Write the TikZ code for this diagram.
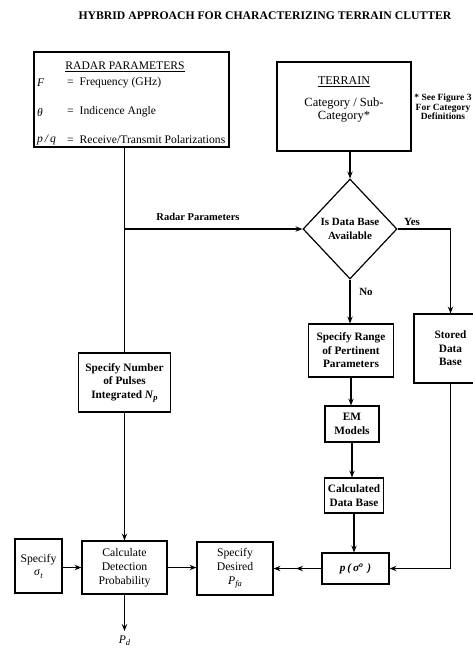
\documentclass[tikz,border=0pt]{standalone}
\usepackage{fontspec}
\setmainfont{Liberation Serif}
\usetikzlibrary{shapes.geometric,arrows.meta,calc}
\newcommand{\mysub}[1]{\raisebox{-0.4ex}{\fontsize{8.5}{8.5}\selectfont\itshape #1}}
\begin{document}
\begin{tikzpicture}[x=1pt,y=-1pt,
  box/.style={draw,line width=1.2pt,rectangle,inner sep=0pt,align=center,font=\fontsize{11.7}{13.8}\selectfont},
  bbox/.style={box,font=\fontsize{11.3}{13.5}\selectfont\bfseries},
  lbl/.style={inner sep=0pt,font=\fontsize{11.6}{13.5}\selectfont},
  blbl/.style={inner sep=0pt,font=\fontsize{11}{13.5}\selectfont\bfseries},
  line/.style={line width=1.1pt},
  conn/.style={line width=1.1pt,-{Stealth[length=7pt,width=5.5pt,inset=2.5pt]}}]
\useasboundingbox (0,0) rectangle (473,649);

% title
\node[inner sep=0pt,font=\fontsize{11.7}{14}\selectfont\bfseries] (title) at (265,16) {HYBRID APPROACH FOR CHARACTERIZING TERRAIN CLUTTER};

% radar parameters box
\node[box,minimum width=195pt,minimum height=95pt] (radar) at (131.5,99.5) {};
\node[lbl,font=\fontsize{11.6}{13}\selectfont] (rpt) at (125,67) {\underline{RADAR PARAMETERS}};
\node[lbl,anchor=west] (fsym) at (37,83) {\itshape F};
\node[lbl,anchor=west] (fdef) at (67,83) {=\hspace{6pt}Frequency (GHz)};
\node[lbl,anchor=west] (tsym) at (37,112) {\itshape θ};
\node[lbl,anchor=west] (tdef) at (67,112) {=\hspace{6pt}Indicence Angle};
\node[lbl,anchor=west] (psym) at (37,140) {\itshape p\,/\,q};
\node[lbl,anchor=west] (pdef) at (67,140) {=\hspace{6pt}Receive/Transmit Polarizations};

% terrain box
\node[box,minimum width=134pt,minimum height=89pt] (terrain) at (344,106.5) {};
\node[lbl,font=\fontsize{12}{13}\selectfont] (ttl) at (344,82) {\underline{TERRAIN}};
\node[lbl,align=center,font=\fontsize{12.5}{13}\selectfont] (tcat) at (344,110.5) {Category / Sub-\\Category*};
\node[inner sep=0pt,align=center,font=\fontsize{9.5}{8}\selectfont\bfseries] (fn) at (443,107) {* See Figure 3\\For Category\\Definitions};

% decision
\node[diamond,draw,line width=1.2pt,minimum width=94pt,minimum height=100pt,inner sep=0pt,align=center,font=\fontsize{11}{14}\selectfont\bfseries] (dia) at (350,229) {Is Data Base\\Available};
\node[blbl,font=\fontsize{10.5}{12}\selectfont\bfseries] (rplab) at (198,217) {Radar Parameters};
\node[blbl] (yes) at (412,222) {Yes};
\node[blbl] (no) at (366,292) {No};

% right column
\node[bbox,minimum width=85pt,minimum height=53pt] (specrange) at (351,350.5) {Specify Range\\of Pertinent\\Parameters};
\node[bbox,minimum width=73pt,minimum height=69pt] (stored) at (450.5,348.5) {Stored\\Data\\Base};
\node[bbox,minimum width=54pt,minimum height=36pt] (em) at (352,424) {EM\\Models};
\node[bbox,minimum width=59pt,minimum height=35pt] (calcdb) at (354,495.5) {Calculated\\Data Base};
\node[bbox,minimum width=67pt,minimum height=31pt] (pbox) at (355.5,568.5) {\itshape p\,(\,σ\textsuperscript{o}\,\,)};

% left / bottom
\node[bbox,minimum width=92pt,minimum height=59pt] (specnum) at (124.5,382.5) {Specify Number\\of Pulses\\Integrated \textit{N}\mysub{p}};
\node[box,minimum width=47pt,minimum height=54pt] (sigt) at (38.5,566) {Specify\\\textit{σ}\mysub{t}};
\node[box,minimum width=85pt,minimum height=53pt] (calc) at (124.5,567.5) {Calculate\\Detection\\Probability};
\node[box,minimum width=76pt,minimum height=53pt] (desired) at (235,568.5) {Specify\\Desired\\\textit{P}\mysub{fa}};
\coordinate (pdend) at (124.5,631);
\node[lbl] (pd) at (124.5,641) {\textit{P}\mysub{d}};

% connectors
\coordinate (br) at (dia.west -| specnum.north);
\draw[line] (radar.south -| specnum.north) -- (specnum.north);
\draw[conn] (br) -- (dia.west);
\draw[conn] (specnum.south) -- (calc.north);
\draw[conn] (dia.north |- terrain.south) -- (dia.north);
\draw[conn] (dia.south) -- (dia.south |- specrange.north);
\draw[conn] (specrange.south) -- (specrange.south |- em.north);
\draw[conn] (em.south) -- (em.south |- calcdb.north);
\draw[conn] (calcdb.south) -- (calcdb.south |- pbox.north);
\draw[conn] (dia.east) -| (stored.north);
\draw[conn] (stored.south) |- (pbox.east);
\coordinate (mid) at ($(desired.east)!0.47!(pbox.west)$);
\draw[conn] (pbox.west) -- (desired.east);
\draw[conn] (pbox.west) -- (mid);
\draw[conn] (sigt.east |- calc.west) -- (calc.west);
\draw[conn] (calc.east) -- (calc.east -| desired.west);
\draw[conn] (calc.south) -- (pdend);
\end{tikzpicture}
\end{document}
